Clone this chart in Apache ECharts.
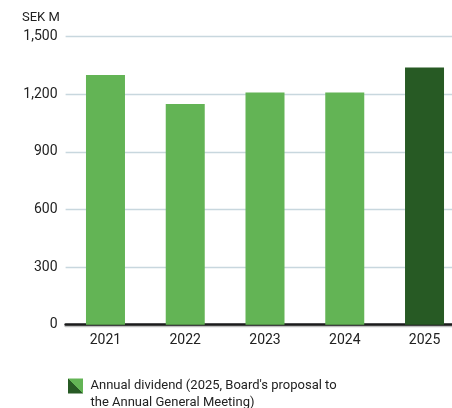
<!DOCTYPE html>
<html>
<head>
<meta charset="utf-8">
<script src="https://cdn.jsdelivr.net/npm/echarts@6/dist/echarts.min.js"></script>
<style>
  html, body { margin: 0; padding: 0; background: #fff; }
  #chart { width: 452px; height: 408px; }
</style>
</head>
<body>
<div id="chart"></div>
<script>
// Annual dividend, SEK M
const years = ['2021', '2022', '2023', '2024', '2025'];
const dividend = [1300, 1150, 1210, 1210, 1340];
const yTicks = [0, 300, 600, 900, 1200, 1500];
const proposalYear = '2025';

const LIGHT = '#63b455';
const DARK = '#275a24';
const FONT = 'Roboto, "Noto Sans", sans-serif';

const chart = echarts.init(document.getElementById('chart'), null, { renderer: 'canvas' });

chart.setOption({
  animation: false,
  // plot area runs past the right edge, so the last bar sits close to it
  grid: { left: 65.6, width: 398.8, top: 36.7, height: 288, containLabel: false, outerBoundsMode: 'none' },
  xAxis: {
    type: 'category',
    data: years,
    axisTick: { show: false },
    axisLine: {
      show: true,
      lineStyle: { color: '#1b1b1b', width: 2.5, shadowColor: 'rgba(0,0,0,0.25)', shadowOffsetY: 1.5, shadowBlur: 0 }
    },
    axisLabel: { color: '#222', fontSize: 14, fontFamily: FONT, margin: 9 }
  },
  yAxis: {
    type: 'value',
    min: yTicks[0],
    max: yTicks[yTicks.length - 1],
    interval: yTicks[1] - yTicks[0],
    axisLine: { show: false },
    axisTick: { show: false },
    axisLabel: {
      color: '#222', fontSize: 14, fontFamily: FONT, margin: 8,
      formatter: v => v.toLocaleString('en-US')
    },
    splitLine: { lineStyle: { color: '#c8d7de', width: 1.3 } }
  },
  series: [{
    type: 'bar',
    name: 'Annual dividend',
    barWidth: 39,
    data: years.map((y, i) => ({
      value: dividend[i],
      itemStyle: { color: y === proposalYear ? DARK : LIGHT }
    }))
  }],
  graphic: [
    {
      type: 'text', left: 22, top: 11,
      style: { text: 'SEK M', fill: '#222', font: '13px ' + FONT }
    },
    {
      type: 'rect', left: 68, top: 378.5,
      shape: { width: 15, height: 15 },
      style: {
        fill: new echarts.graphic.LinearGradient(0, 1, 1, 0, [
          { offset: 0, color: DARK }, { offset: 0.5, color: DARK },
          { offset: 0.5, color: LIGHT }, { offset: 1, color: LIGHT }
        ])
      }
    },
    {
      type: 'text', left: 90.5, top: 377,
      style: {
        text: "Annual dividend (2025, Board's proposal to\nthe Annual General Meeting)",
        fill: '#222', font: '13px ' + FONT, lineHeight: 17
      }
    }
  ]
});
</script>
</body>
</html>
